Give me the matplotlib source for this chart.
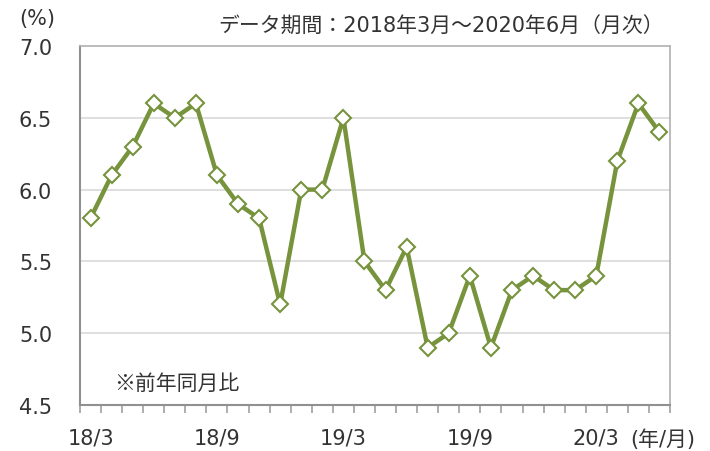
import matplotlib.pyplot as plt
import numpy as np

plt.rcParams['font.family'] = ['DejaVu Sans', 'Noto Sans CJK JP']

# 2018/3 .. 2020/6, monthly
values = [5.8, 6.1, 6.3, 6.6, 6.5, 6.6, 6.1, 5.9, 5.8, 5.2, 6.0, 6.0,
          6.5, 5.5, 5.3, 5.6, 4.9, 5.0, 5.4, 4.9, 5.3, 5.4, 5.3, 5.3,
          5.4, 6.2, 6.6, 6.4]
tick_labels = ['18/3', '18/9', '19/3', '19/9', '20/3']
tick_pos = [0, 6, 12, 18, 24]
y_ticks = [4.5, 5.0, 5.5, 6.0, 6.5, 7.0]

green = '#77933C'
txt = '#333333'
fs = 15
x = np.arange(len(values))

fig = plt.figure(figsize=(7.1, 4.52), dpi=100)
ax = fig.add_axes([80/710, 1 - 406/452, 590/710, 359/452])

ax.plot(x, values, color=green, lw=3.2, marker='D', ms=8,
        mfc='white', mec=green, mew=1.5, zorder=3)

ax.set_xlim(-0.5, len(values) - 0.5)
ax.set_ylim(4.5, 7.0)
ax.set_yticks(y_ticks)
ax.set_yticklabels([f'{v:.1f}' for v in y_ticks], fontsize=fs, color=txt)
ax.tick_params(axis='y', length=0, pad=20)
for v in y_ticks[1:-1]:
    ax.axhline(v, color='#d9d9d9', lw=1.2, zorder=1)

ax.set_xticks(np.arange(-0.5, len(values), 1.0), minor=True)
ax.set_xticks(tick_pos)
ax.set_xticklabels(tick_labels, fontsize=fs, color=txt)
ax.tick_params(axis='x', which='major', length=0, pad=16)
ax.tick_params(axis='x', which='minor', length=6, color='#a0a0a0', width=1.2)

for s in ['top', 'right']:
    ax.spines[s].set_color('#b0b0b0')
    ax.spines[s].set_linewidth(1.2)
for s in ['left', 'bottom']:
    ax.spines[s].set_color('#909090')
    ax.spines[s].set_linewidth(1.5)

fig.text(19/710, 1 - 19/452, '(%)', fontsize=fs, va='center', color=txt)
fig.text(664/710, 1 - 27/452, 'データ期間：2018年3月～2020年6月（月次）',
         fontsize=fs, ha='right', va='center', color=txt,
         family=['DejaVu Sans', 'Noto Sans CJK JP'])
fig.text(114/710, 1 - 384/452, '※前年同月比', fontsize=fs, va='center',
         color=txt, family=['Noto Sans CJK JP', 'DejaVu Sans'])
fig.text(630/710, 1 - 440/452, '(年/月)', fontsize=fs, ha='left', va='center',
         color=txt)

fig.savefig('out.png', dpi=100)
